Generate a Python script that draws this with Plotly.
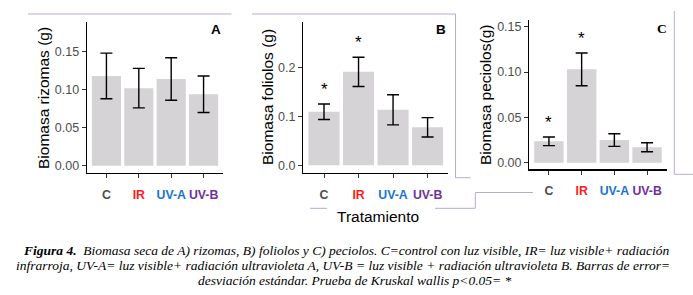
import plotly.graph_objects as go

W, H = 693, 295

categories = ["C", "IR", "UV-A", "UV-B"]
cat_colors = ["#4D4D4D", "#FF1A1A", "#1874CD", "#7030A0"]

rizomas_mean = [0.118, 0.102, 0.114, 0.094]
rizomas_sd = [0.030, 0.026, 0.028, 0.024]
foliolos_mean = [0.110, 0.192, 0.114, 0.078]
foliolos_sd = [0.016, 0.030, 0.031, 0.020]
peciolos_mean = [0.0236, 0.103, 0.025, 0.017]
peciolos_sd = [0.0048, 0.018, 0.007, 0.005]

sig_foliolos = [True, True, False, False]
sig_peciolos = [True, True, False, False]

yticks_A = [0.00, 0.05, 0.10, 0.15]
yticks_B = [0.0, 0.1, 0.2]
yticks_C = [0.00, 0.05, 0.10, 0.15]

caption_lines = [
    "<b><i>Figura 4.</i></b><i>  Biomasa seca de A) rizomas, B) foliolos y C) peciolos. C=control con luz visible, IR= luz visible+ radiación</i>",
    "<i>infrarroja, UV-A= luz visible+ radiación ultravioleta A, UV-B = luz visible + radiación ultravioleta B. Barras de error=</i>",
    "<i>desviación estándar. Prueba de Kruskal wallis p&lt;0.05= *</i>",
]


def fx(x):
    return x / W


def fy(y):
    return 1 - y / H


panels = [
    dict(mean=rizomas_mean, sd=rizomas_sd, sig=None, yt=yticks_A, fmt="%.2f",
         xpx=(87, 223), ypx=(22, 173), yr=[-0.0096, 0.189],
         title="Biomasa rizomas (g)", tpos=(43, 98), letter="A", lpos=(223, 29), lfont="Liberation Sans"),
    dict(mean=foliolos_mean, sd=foliolos_sd, sig=sig_foliolos, yt=yticks_B, fmt="%.1f",
         xpx=(303.3, 448.3), ypx=(21.7, 172.7), yr=[-0.0152, 0.295],
         title="Biomasa foliolos (g)", tpos=(268, 97), letter="B", lpos=(448, 29), lfont="Liberation Sans"),
    dict(mean=peciolos_mean, sd=peciolos_sd, sig=sig_peciolos, yt=yticks_C, fmt="%.2f",
         xpx=(529.3, 666.7), ypx=(20, 169.3), yr=[-0.0073, 0.1575],
         title="Biomasa peciolos(g)", tpos=(485, 95), letter="C", lpos=(669, 28), lfont="Liberation Serif"),
]

fig = go.Figure()
annotations = []
layout = dict(
    width=W, height=H, autosize=False,
    margin=dict(l=0, r=0, t=0, b=0),
    paper_bgcolor="white", plot_bgcolor="white",
    showlegend=False,
)

ticktext = [f'<span style="color:{c}"><b>{t}</b></span>' for t, c in zip(categories, cat_colors)]

for i, p in enumerate(panels):
    n = "" if i == 0 else str(i + 1)
    xa, ya = "x" + n, "y" + n
    fig.add_trace(go.Bar(
        x=categories, y=p["mean"], xaxis=xa, yaxis=ya,
        marker=dict(color="#D5D3D5", line=dict(width=0)), width=0.9,
        error_y=dict(type="data", array=p["sd"], color="black", thickness=1.4, width=6),
        hoverinfo="skip",
    ))
    layout["xaxis" + n] = dict(
        domain=[fx(p["xpx"][0]), fx(p["xpx"][1])], anchor=ya,
        range=[-0.6, 3.6], type="category", categoryorder="array", categoryarray=categories,
        tickmode="array", tickvals=categories, ticktext=ticktext, tickangle=0,
        showline=True, linecolor="black", linewidth=1.3, mirror=False,
        ticks="outside", ticklen=4, tickcolor="#333333", tickwidth=1,
        tickfont=dict(family="Liberation Sans", size=12.3),
        ticklabelstandoff=6, showgrid=False, zeroline=False, fixedrange=True,
    )
    layout["yaxis" + n] = dict(
        domain=[fy(p["ypx"][1]), fy(p["ypx"][0])], anchor=xa,
        range=p["yr"], tickmode="array", tickvals=p["yt"],
        ticktext=[p["fmt"] % v for v in p["yt"]],
        showline=True, linecolor="black", linewidth=1.3, mirror=False,
        ticks="outside", ticklen=4, tickcolor="#333333", tickwidth=1,
        tickfont=dict(family="Liberation Sans", size=12.5, color="#4D4D4D"),
        showgrid=False, zeroline=False, fixedrange=True,
    )
    annotations.append(dict(
        text=p["title"], x=fx(p["tpos"][0]), y=fy(p["tpos"][1]), xref="paper", yref="paper",
        textangle=-90, showarrow=False, xanchor="center", yanchor="middle",
        font=dict(family="Liberation Sans", size=15.5, color="black"),
    ))
    annotations.append(dict(
        text=f"<b>{p['letter']}</b>", x=fx(p["lpos"][0]), y=fy(p["lpos"][1]), xref="paper", yref="paper",
        showarrow=False, xanchor="right", yanchor="middle",
        font=dict(family=p["lfont"], size=13.5, color="black"),
    ))
    if p["sig"]:
        for c, m, s, flag in zip(categories, p["mean"], p["sd"], p["sig"]):
            if flag:
                annotations.append(dict(
                    text="*", x=c, y=m + s, xref=xa, yref=ya, showarrow=False,
                    xanchor="center", yanchor="bottom", yshift=3,
                    font=dict(family="Liberation Sans", size=17, color="black"),
                ))

annotations.append(dict(
    text="Tratamiento", x=fx(378), y=fy(216.5), xref="paper", yref="paper",
    showarrow=False, xanchor="center", yanchor="middle",
    font=dict(family="Liberation Sans", size=15.5, color="black"),
))

cap_y = [250, 265.5, 280.5]
cap_x = [346, 343, 355]
for t, yy, xx in zip(caption_lines, cap_y, cap_x):
    annotations.append(dict(
        text=t, x=fx(xx), y=fy(yy), xref="paper", yref="paper",
        showarrow=False, xanchor="center", yanchor="middle",
        font=dict(family="Liberation Serif, Times New Roman, serif", size=13.5, color="black"),
    ))

# decorative frame lines from the original figure
line_col = "#BBAACB"
segments = [
    ((28, 14), (231.5, 14)),
    ((252, 14), (455.5, 14)),
    ((455.5, 14), (455.5, 177.7)),
    ((455.5, 177.7), (470.5, 177.7)),
    ((310, 208.3), (327, 208.3)),
    ((435, 208.3), (475.3, 208.3)),
    ((475.3, 208.3), (475.3, 192.5)),
    ((475.3, 192.5), (533, 192.5)),
    ((674.3, 11), (674.3, 174.3)),
    ((674.3, 174.3), (693, 174.3)),
]
shapes = []
for (x0, y0), (x1, y1) in segments:
    shapes.append(dict(type="line", xref="paper", yref="paper",
                       x0=fx(x0), y0=fy(y0), x1=fx(x1), y1=fy(y1),
                       line=dict(color=line_col, width=1)))

layout["annotations"] = annotations
layout["shapes"] = shapes
fig.update_layout(**layout)

fig.write_html(
    "out.html",
    config={"displayModeBar": False, "staticPlot": True},
    post_script="document.body.style.margin='0';document.body.style.overflow='hidden';",
)
